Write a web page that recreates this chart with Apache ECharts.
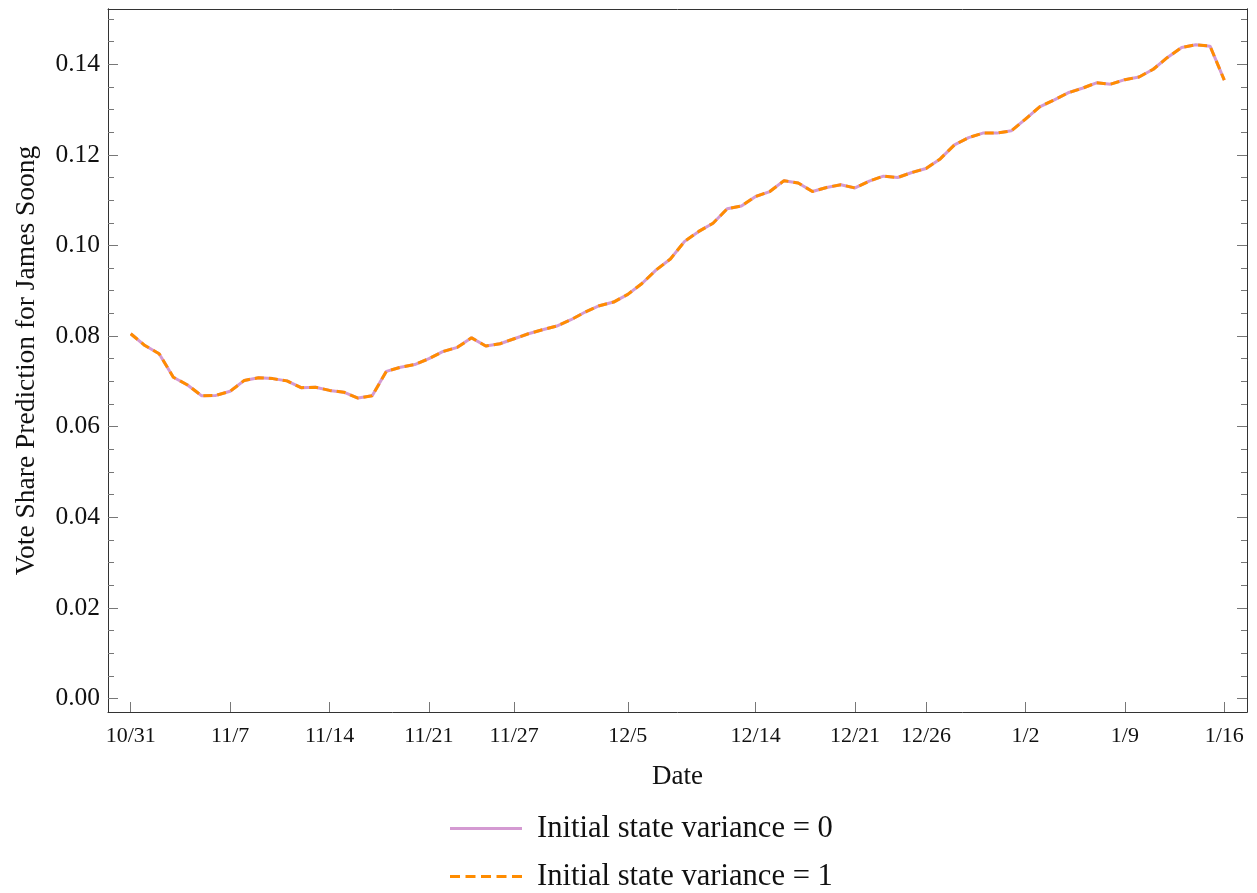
<!DOCTYPE html>
<html>
<head>
<meta charset="utf-8">
<script src="https://cdn.jsdelivr.net/npm/echarts@6/dist/echarts.min.js"></script>
<style>html,body{margin:0;padding:0;background:#fff}#c{width:1257px;height:893px}</style>
</head>
<body>
<div id="c"></div>
<script>
// Day index 0 = 10/31
const tickDays = [0, 7, 14, 21, 27, 35, 44, 51, 56, 63, 70, 77];
const tickLabels = ['10/31', '11/7', '11/14', '11/21', '11/27', '12/5', '12/14', '12/21', '12/26', '1/2', '1/9', '1/16'];
const yMajorTicks = [0, 0.02, 0.04, 0.06, 0.08, 0.10, 0.12, 0.14];
const yMinorTicks = [0.005, 0.01, 0.015, 0.025, 0.03, 0.035, 0.045, 0.05, 0.055, 0.065, 0.07, 0.075, 0.085, 0.09, 0.095, 0.105, 0.11, 0.115, 0.125, 0.13, 0.135, 0.145, 0.15];
const variance0 = [
  0.0805, 0.0779, 0.0761, 0.0709, 0.0692, 0.0668, 0.0669, 0.0678, 0.0702, 0.0708,
  0.0706, 0.0701, 0.0686, 0.0687, 0.0680, 0.0676, 0.0663, 0.0668, 0.0722, 0.0731,
  0.0737, 0.0750, 0.0766, 0.0775, 0.0796, 0.0778, 0.0783, 0.0794, 0.0805, 0.0814,
  0.0822, 0.0836, 0.0853, 0.0867, 0.0875, 0.0892, 0.0916, 0.0946, 0.0970, 0.1009,
  0.1031, 0.1049, 0.1081, 0.1087, 0.1108, 0.1119, 0.1143, 0.1138, 0.1119, 0.1128,
  0.1134, 0.1127, 0.1142, 0.1153, 0.1150, 0.1161, 0.1170, 0.1191, 0.1222, 0.1238,
  0.1248, 0.1248, 0.1253, 0.1279, 0.1306, 0.1321, 0.1337, 0.1347, 0.1359, 0.1356,
  0.1366, 0.1372, 0.1389, 0.1415, 0.1437, 0.1443, 0.1440, 0.1365
];
const variance1 = [
  0.0805, 0.0779, 0.0761, 0.0709, 0.0692, 0.0668, 0.0669, 0.0678, 0.0702, 0.0708,
  0.0706, 0.0701, 0.0686, 0.0687, 0.0680, 0.0676, 0.0663, 0.0668, 0.0722, 0.0731,
  0.0737, 0.0750, 0.0766, 0.0775, 0.0796, 0.0778, 0.0783, 0.0794, 0.0805, 0.0814,
  0.0822, 0.0836, 0.0853, 0.0867, 0.0875, 0.0892, 0.0916, 0.0946, 0.0970, 0.1009,
  0.1031, 0.1049, 0.1081, 0.1087, 0.1108, 0.1119, 0.1143, 0.1138, 0.1119, 0.1128,
  0.1134, 0.1127, 0.1142, 0.1153, 0.1150, 0.1161, 0.1170, 0.1191, 0.1222, 0.1238,
  0.1248, 0.1248, 0.1253, 0.1279, 0.1306, 0.1321, 0.1337, 0.1347, 0.1359, 0.1356,
  0.1366, 0.1372, 0.1389, 0.1415, 0.1437, 0.1443, 0.1440, 0.1365
];
const seriesNames = ['Initial state variance = 0', 'Initial state variance = 1'];

const FONT = 'Liberation Serif';
const AXIS_COLOR = '#333';
const TICK_COLOR = '#777';
const PINK = '#d49ad2';
const ORANGE = '#ff8c00';
const X_MIN = -1.6, X_MAX = 78.6, Y_MIN = -0.003, Y_MAX = 0.1522;

const chart = echarts.init(document.getElementById('c'), null, {renderer: 'canvas'});

function yAxisDef(position, ticks, len, showLabels) {
  return {
    type: 'value', position: position, min: Y_MIN, max: Y_MAX,
    axisLine: {show: true, onZero: false, lineStyle: {color: AXIS_COLOR, width: 1}},
    axisTick: {show: true, inside: true, length: len, customValues: ticks, lineStyle: {color: TICK_COLOR, width: 1}},
    axisLabel: showLabels ? {show: true, customValues: yMajorTicks, formatter: v => v.toFixed(2), fontFamily: FONT, fontSize: 25.5, color: '#111', margin: 8} : {show: false},
    splitLine: {show: false},
    name: showLabels ? 'Vote Share Prediction for James Soong' : '',
    nameLocation: 'middle', nameGap: 67, nameRotate: 90,
    nameTextStyle: {fontFamily: FONT, fontSize: 27.5, color: '#111'}
  };
}

function legendDef(name, top, icon, color) {
  return {
    orient: 'vertical', left: 450, top: top, padding: 0,
    itemWidth: 72, itemHeight: 3,
    icon: icon,
    itemStyle: {color: color, borderWidth: 0},
    textStyle: {fontFamily: FONT, fontSize: 30.6, color: '#111', padding: [0, 0, 0, 10]},
    data: [name]
  };
}

chart.setOption({
  animation: false,
  backgroundColor: '#fff',
  grid: {left: 108, right: 10, top: 9, bottom: 181, containLabel: false},
  xAxis: [
    {
      type: 'value', position: 'bottom', min: X_MIN, max: X_MAX,
      axisLine: {show: true, onZero: false, lineStyle: {color: AXIS_COLOR, width: 1}},
      axisTick: {show: true, inside: true, length: 10, customValues: tickDays, lineStyle: {color: TICK_COLOR, width: 1}},
      axisLabel: {show: true, customValues: tickDays, formatter: v => tickLabels[tickDays.indexOf(v)], fontFamily: FONT, fontSize: 22, color: '#111', margin: 13},
      splitLine: {show: false},
      name: 'Date', nameLocation: 'middle', nameGap: 51,
      nameTextStyle: {fontFamily: FONT, fontSize: 27, color: '#111'}
    },
    {
      type: 'value', position: 'top', min: X_MIN, max: X_MAX,
      axisLine: {show: true, onZero: false, lineStyle: {color: AXIS_COLOR, width: 1}},
      axisTick: {show: false}, axisLabel: {show: false}, splitLine: {show: false}
    }
  ],
  yAxis: [
    yAxisDef('left', yMajorTicks, 10, true),
    yAxisDef('left', yMinorTicks, 6, false),
    yAxisDef('right', yMajorTicks, 10, false),
    yAxisDef('right', yMinorTicks, 6, false)
  ],
  legend: [
    legendDef(seriesNames[0], 813, 'rect', PINK),
    legendDef(seriesNames[1], 861, 'path://M0,0h10v3h-10z M15.5,0h10v3h-10z M31,0h10v3h-10z M46.5,0h10v3h-10z M62,0h10v3h-10z', ORANGE)
  ],
  series: [
    {
      name: seriesNames[0], type: 'line', xAxisIndex: 0, yAxisIndex: 0,
      data: variance0.map((v, i) => [i, v]),
      showSymbol: false, symbol: 'none',
      itemStyle: {color: PINK},
      lineStyle: {color: PINK, width: 3, type: 'solid'}
    },
    {
      name: seriesNames[1], type: 'line', xAxisIndex: 0, yAxisIndex: 0,
      data: variance1.map((v, i) => [i, v]),
      showSymbol: false, symbol: 'none',
      itemStyle: {color: ORANGE},
      lineStyle: {color: ORANGE, width: 3, type: [9, 5]}
    }
  ]
});
</script>
</body>
</html>
